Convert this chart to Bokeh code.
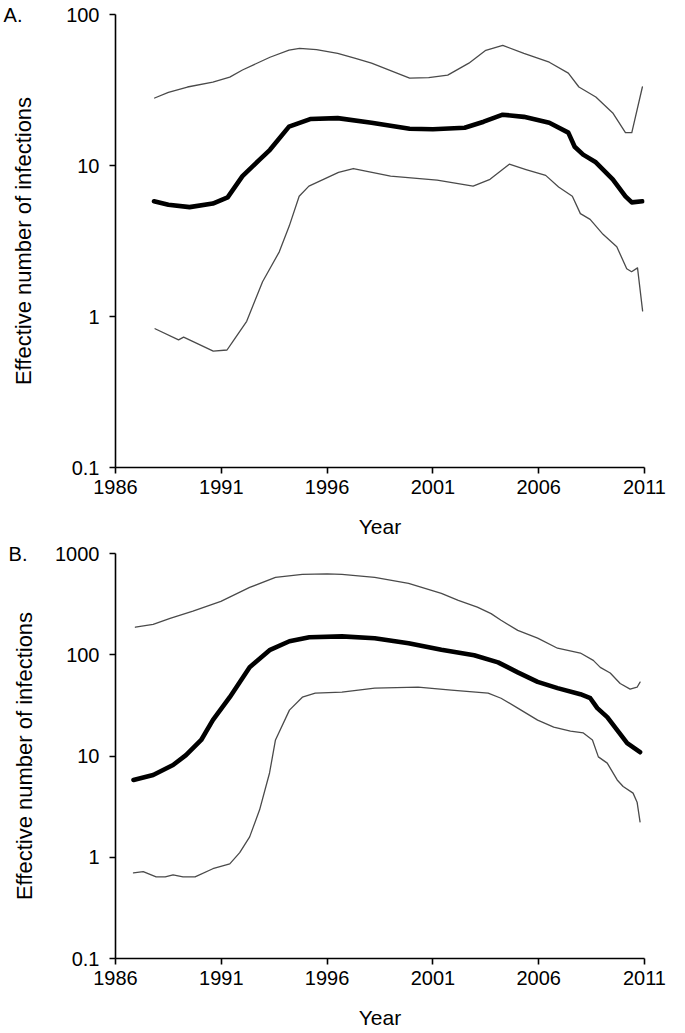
from bokeh.plotting import figure
from bokeh.layouts import column
from bokeh.models import Range1d, FixedTicker, CustomJSTickFormatter, LogAxis
from bokeh.embed import file_html
from bokeh.resources import INLINE

# ---------------- data ----------------
x_ticks = [1986, 1991, 1996, 2001, 2006, 2011]
a_y_ticks = [0.1, 1, 10, 100]
b_y_ticks = [0.1, 1, 10, 100, 1000]

# Panel A
a_upper_year = [1987.85, 1988.5, 1989.4, 1990.6, 1991.4, 1992.0, 1993.3, 1994.2, 1994.7, 1995.5,
                1996.5, 1997.3, 1998.1, 1999.0, 1999.9, 2000.8, 2001.7, 2002.7, 2003.5, 2004.3,
                2005.3, 2006.5, 2007.4, 2007.9, 2008.7, 2009.5, 2010.1, 2010.4, 2010.9]
a_upper_val = [28.0, 30.5, 33.1, 35.7, 38.5, 42.9, 52.1, 58.0, 59.7, 58.5,
               55.3, 51.5, 47.6, 42.5, 37.9, 38.2, 39.7, 47.6, 57.9, 62.5,
               55.3, 48.3, 40.9, 33.1, 28.4, 22.3, 16.5, 16.5, 33.1]

a_mid_year = [1987.82, 1988.5, 1989.5, 1990.6, 1991.3, 1992.0, 1992.8, 1993.3, 1994.2, 1995.2,
              1996.5, 1998.1, 1999.9, 2001.0, 2002.5, 2003.4, 2004.3, 2005.3, 2006.5, 2007.4,
              2007.7, 2008.1, 2008.7, 2009.5, 2010.1, 2010.4, 2010.9]
a_mid_val = [5.8, 5.5, 5.3, 5.6, 6.15, 8.5, 10.9, 12.7, 18.1, 20.3,
             20.6, 19.2, 17.5, 17.4, 17.8, 19.5, 21.7, 21.0, 19.2, 16.5,
             13.3, 11.8, 10.5, 8.1, 6.25, 5.7, 5.8]

a_lower_year = [1987.87, 1988.98, 1989.22, 1990.62, 1991.27, 1991.55, 1992.2, 1992.95, 1993.74, 1994.21,
                1994.68, 1995.14, 1996.54, 1997.24, 1999.0, 2001.2, 2002.9, 2003.7, 2004.61, 2005.4,
                2006.33, 2006.94, 2007.59, 2007.97, 2008.43, 2009.04, 2009.69, 2010.16, 2010.39, 2010.67,
                2010.91]
a_lower_val = [0.83, 0.70, 0.73, 0.59, 0.60, 0.685, 0.93, 1.70, 2.68, 3.97,
               6.25, 7.3, 9.0, 9.55, 8.5, 8.0, 7.3, 8.1, 10.2, 9.4,
               8.6, 7.2, 6.25, 4.8, 4.4, 3.5, 2.9, 2.07, 1.98, 2.1,
               1.09]

# Panel B
b_upper_year = [1986.94, 1987.78, 1988.58, 1989.66, 1990.98, 1992.34, 1993.56, 1994.83, 1996.0, 1996.7,
                1998.25, 1999.85, 2001.4, 2002.2, 2003.1, 2003.75, 2004.22, 2005.01, 2005.95, 2006.89,
                2007.97, 2008.58, 2008.91, 2009.38, 2009.85, 2010.32, 2010.65, 2010.79]
b_upper_val = [187, 200, 229, 269, 337, 462, 580, 621, 630, 621,
               581, 506, 403, 344, 295, 255, 219, 174, 146, 116,
               104, 88, 75, 66, 52, 45.7, 47.8, 53.6]

b_mid_year = [1986.85, 1987.78, 1988.72, 1989.33, 1990.05, 1990.6, 1991.4, 1992.34, 1993.28, 1994.22,
              1995.16, 1996.7, 1998.25, 1999.85, 2001.4, 2002.95, 2004.08, 2005.01, 2005.95, 2006.89,
              2007.97, 2008.44, 2008.77, 2009.24, 2009.71, 2010.18, 2010.79]
b_mid_val = [5.8, 6.5, 8.15, 10.2, 14.4, 22.6, 38.1, 75.4, 111, 136,
             149, 152, 145.5, 130, 112, 99, 84, 67, 54, 46.8,
             40.8, 37.2, 29.7, 24.2, 18.0, 13.4, 10.9]

b_lower_year = [1986.85, 1987.31, 1987.92, 1988.35, 1988.72, 1989.19, 1989.76, 1990.6, 1991.4, 1991.87,
                1992.34, 1992.81, 1993.28, 1993.56, 1994.22, 1994.83, 1995.44, 1996.7, 1998.25, 2000.3,
                2001.87, 2003.61, 2004.22, 2005.01, 2005.95, 2006.71, 2007.5, 2008.11, 2008.54, 2008.82,
                2009.24, 2009.71, 2009.99, 2010.46, 2010.65, 2010.79]
b_lower_val = [0.70, 0.72, 0.64, 0.64, 0.67, 0.64, 0.64, 0.77, 0.86, 1.11,
               1.59, 2.94, 6.8, 14.4, 28.4, 38.1, 41.8, 42.8, 46.8, 47.8,
               44.7, 41.8, 37.2, 29.7, 22.6, 19.3, 17.6, 16.9, 14.4, 9.8,
               8.5, 5.8, 5.0, 4.3, 3.5, 2.24]

FONT = "Liberation Sans"
W = 685


def make_panel(letter, height, ymax, yticks, border_left, border_top, border_bottom,
               border_right, ylabel_standoff, letter_standoff, series):
    p = figure(width=W, height=height, x_range=Range1d(1986, 2011),
               y_range=Range1d(0.1, ymax), y_axis_type="log",
               output_backend="svg", toolbar_location=None,
               min_border_left=border_left, min_border_top=border_top,
               min_border_bottom=border_bottom, min_border_right=border_right)
    p.grid.visible = False
    p.outline_line_color = None
    p.background_fill_color = "white"
    p.border_fill_color = "white"

    p.xaxis.ticker = FixedTicker(ticks=x_ticks)
    p.yaxis.ticker = FixedTicker(ticks=yticks)
    p.yaxis.formatter = CustomJSTickFormatter(
        code="return tick < 1 ? tick.toFixed(1) : tick.toFixed(0);")

    for ax in (p.xaxis[0], p.yaxis[0]):
        ax.axis_line_color = "black"
        ax.axis_line_width = 1.6
        ax.major_tick_line_color = "black"
        ax.major_tick_line_width = 1.6
        ax.major_tick_in = 0
        ax.major_tick_out = 6
        ax.minor_tick_line_color = None
        ax.major_label_text_font = FONT
        ax.major_label_text_font_size = "20px"
        ax.major_label_text_color = "black"
        ax.axis_label_text_font = FONT
        ax.axis_label_text_font_style = "normal"
        ax.axis_label_text_color = "black"

    p.xaxis.axis_label = "Year"
    p.xaxis.axis_label_text_font_size = "21px"
    p.xaxis.major_label_standoff = 6
    p.xaxis.axis_label_standoff = 18
    p.yaxis.axis_label = "Effective number of infections"
    p.yaxis.axis_label_text_font_size = "22px"
    p.yaxis.major_label_standoff = 10
    p.yaxis.axis_label_standoff = ylabel_standoff

    for xs, ys, lw, col in series:
        p.line(xs, ys, line_width=lw, line_color=col, line_join="round", line_cap="round")

    # panel letter: an outer, line-less axis whose only tick label sits at the frame top
    letter_axis = LogAxis(ticker=FixedTicker(ticks=[ymax]),
                          major_label_overrides={ymax: letter})
    letter_axis.axis_line_color = None
    letter_axis.major_tick_line_color = None
    letter_axis.minor_tick_line_color = None
    letter_axis.major_tick_in = 0
    letter_axis.major_tick_out = 0
    letter_axis.major_label_standoff = letter_standoff
    letter_axis.major_label_text_font = FONT
    letter_axis.major_label_text_font_size = "20px"
    letter_axis.major_label_text_color = "black"
    p.add_layout(letter_axis, "left")
    return p


thin = 1.3
thick = 4.6
gray = "#4a4a4a"

pa = make_panel("A.", 540, 100, a_y_ticks, 114, 14, 70, 33, 27, -14, [
    (a_upper_year, a_upper_val, thin, gray),
    (a_lower_year, a_lower_val, thin, gray),
    (a_mid_year, a_mid_val, thick, "black"),
])

pb = make_panel("B.", 492, 1000, b_y_ticks, 111, 13, 74, 41, 15, -18, [
    (b_upper_year, b_upper_val, thin, gray),
    (b_lower_year, b_lower_val, thin, gray),
    (b_mid_year, b_mid_val, thick, "black"),
])

layout = column(pa, pb, spacing=0)
open("out.html", "w").write(file_html(layout, INLINE))
